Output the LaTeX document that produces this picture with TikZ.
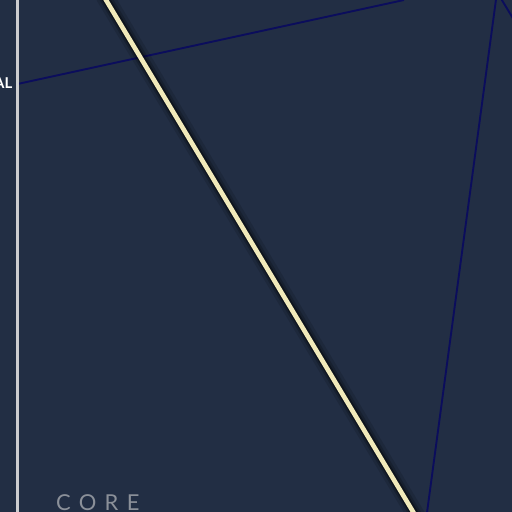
\documentclass[tikz,border=0pt]{standalone}
\usepackage{fontspec}
\usepackage{tikz}
\usetikzlibrary{positioning}
\newfontfamily\labelfont{Lato}
\newfontfamily\corefont[LetterSpace=38]{Lato}
\definecolor{bgnavy}{HTML}{222E44}
\definecolor{linknavy}{HTML}{0B0D5C}
\definecolor{axisgray}{HTML}{CDCDD0}
\definecolor{pathcream}{HTML}{F1EABB}
\definecolor{coregray}{HTML}{8B9099}

\begin{document}
\begin{tikzpicture}[
  x=1bp, y=-1bp,
  link/.style={draw=linknavy, line width=1.9bp},
  axis/.style={draw=axisgray, line width=2.6bp},
  glow/.style={draw=black, line cap=round},
  mainpath/.style={draw=pathcream, line width=4.6bp},
  tag/.style={font=\labelfont\bfseries\fontsize{15}{17}\selectfont, text=white, inner sep=0pt},
  zone/.style={font=\corefont\fontsize{22}{24}\selectfont, text=coregray, inner sep=0pt}
]
\fill[bgnavy] (0,0) rectangle (512,512);
\useasboundingbox (0,0) rectangle (512,512);
\clip (0,0) rectangle (512,512);
% anchor points
\coordinate (axtop) at (17.5,-5);
\coordinate (axbot) at (17.5,520);
\coordinate (hub) at (17.5,84);
\coordinate (far) at (404,0);
\coordinate (apex) at (497,-8);
\coordinate (low) at (426,520);
\coordinate (edge) at (514,20);
\coordinate (pstart) at (103,-5);
\coordinate (pend) at (418,520);
% links
\draw[link] (hub) -- (far);
\draw[link] (apex) -- (low);
\draw[link] (apex) -- (edge);
% highlighted path
\draw[glow, line width=18bp, opacity=0.12] ([shift={(2,2)}]pstart) -- ([shift={(2,2)}]pend);
\draw[glow, line width=12bp, opacity=0.20] ([shift={(1.5,1.5)}]pstart) -- ([shift={(1.5,1.5)}]pend);
\draw[glow, line width=8bp, opacity=0.35] ([shift={(1,1)}]pstart) -- ([shift={(1,1)}]pend);
\draw[mainpath] (pstart) -- (pend);
% axis
\draw[axis] (axtop) -- (axbot);
\node[tag, anchor=base east] (tagal) at (12.5,89) {AL};
\node[zone, anchor=base west] (core) at (56,510) {CORE};
\end{tikzpicture}
\end{document}
